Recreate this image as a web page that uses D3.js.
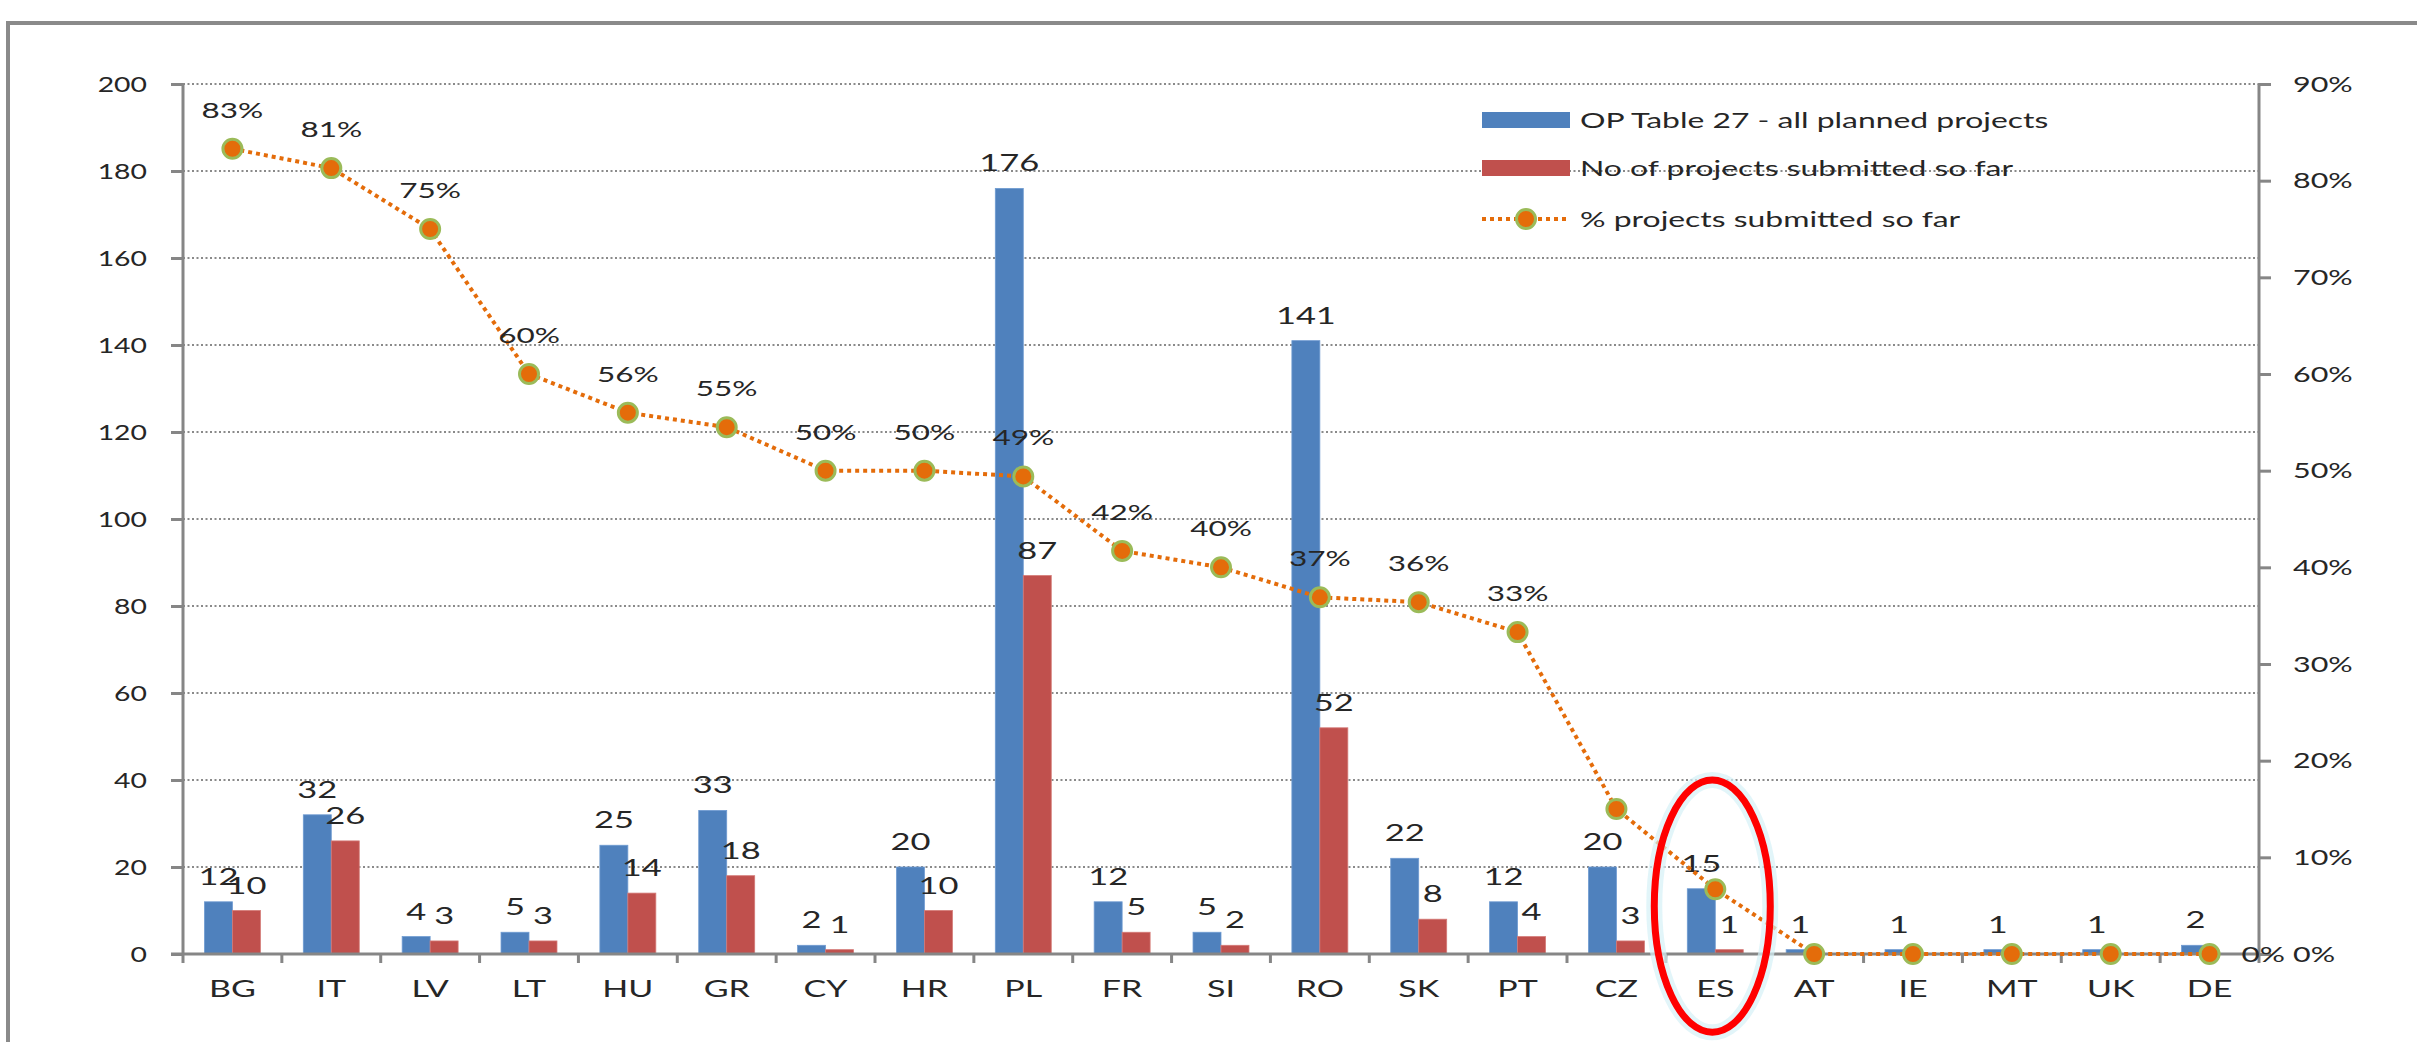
<!DOCTYPE html>
<html><head><meta charset="utf-8">
<script src="https://cdn.jsdelivr.net/npm/d3@7"></script>
<style>html,body{margin:0;padding:0;background:#fff;}svg{display:block;}</style>
</head><body>
<script>
// ---- data ----
const categories = ["BG","IT","LV","LT","HU","GR","CY","HR","PL","FR","SI","RO","SK","PT","CZ","ES","AT","IE","MT","UK","DE"];
const plannedProjects = [12,32,4,5,25,33,2,20,176,12,5,141,22,12,20,15,1,1,1,1,2];
const submittedProjects = [10,26,3,3,14,18,1,10,87,5,2,52,8,4,3,1,0,0,0,0,0];
const pctSubmitted = [83.3,81.3,75,60,56,54.5,50,50,49.4,41.7,40,36.9,36.4,33.3,15,6.7,0,0,0,0,0];
const pctLabels = ["83%","81%","75%","60%","56%","55%","50%","50%","49%","42%","40%","37%","36%","33%","","","","","","","0%"];
const leftTicks = [0,20,40,60,80,100,120,140,160,180,200];
const rightTicks = [0,10,20,30,40,50,60,70,80,90];
const seriesNames = ["OP Table 27 - all planned projects","No of projects submitted so far","% projects submitted so far"];
const highlighted = "ES";

// ---- style ----
const W = 2417, H = 1042;
const BLUE = "#4F81BD", RED = "#C0504D", ORANGE = "#E46C0A", GREEN = "#9BBB59";
const AXIS = "#868686", GRID = "#8a8a8a", TXT = "#262626";
const FONT = "Lato, 'Open Sans', sans-serif";

const svg = d3.select("body").append("svg").attr("width", W).attr("height", H)
  .style("font-family", FONT);
svg.append("rect").attr("width", W).attr("height", H).attr("fill", "#fff");

// frame
svg.append("path").attr("d", `M8,${H+10} L8,23 L${W+10},23`).attr("fill","none")
  .attr("stroke", "#8a8a8a").attr("stroke-width", 4);

const plot = {left:183, right:2259, top:84, bottom:954};

const x = d3.scaleBand().domain(categories).range([plot.left, plot.right])
  .paddingInner(0.434).paddingOuter(0.217);
const xSub = d3.scaleBand().domain([0,1]).range([0, x.bandwidth()]);
const xBoundary = d3.scaleLinear().domain([0, categories.length]).range([plot.left, plot.right]);
const yL = d3.scaleLinear().domain([0,200]).range([plot.bottom, plot.top]);
const yR = d3.scaleLinear().domain([0,90]).range([plot.bottom, plot.top]);
const cx = c => x(c) + x.bandwidth()/2;

function txt(g, px, py, s, size, anchor, sx, extra) {
  const t = g.append("text")
    .attr("transform", `translate(${px},${py}) scale(${sx},1)`)
    .attr("text-anchor", anchor || "middle")
    .attr("font-size", size).attr("fill", TXT).text(s);
  if (extra) extra(t);
  return t;
}

// gridlines
svg.append("g").selectAll("line").data(leftTicks.filter(d => d > 0)).join("line")
  .attr("x1", plot.left).attr("x2", plot.right)
  .attr("y1", d => yL(d)).attr("y2", d => yL(d))
  .attr("stroke", GRID).attr("stroke-width", 2).attr("stroke-dasharray", "2,2.5");

// bars
const gBars = svg.append("g");
categories.forEach((c, i) => {
  [plannedProjects[i], submittedProjects[i]].forEach((v, k) => {
    gBars.append("rect")
      .attr("x", x(c) + xSub(k)).attr("width", xSub.bandwidth())
      .attr("y", yL(v)).attr("height", yL(0) - yL(v))
      .attr("fill", k === 0 ? BLUE : RED)
      .attr("stroke", k === 0 ? "#6f9bd1" : "#d47a77").attr("stroke-width", 0.8);
    if (v > 0) txt(gBars, x(c) + xSub(k) + xSub.bandwidth()/2, yL(v) - 17, String(v), 23, "middle", 1.5);
  });
});

// axes
const axisG = svg.append("g");
const leftAxis = d3.axisLeft(yL).tickValues(leftTicks).tickSize(12).tickFormat("");
axisG.append("g").attr("transform", `translate(${plot.left},0)`).call(leftAxis)
  .call(g => { g.selectAll("path,line").attr("stroke", AXIS).attr("stroke-width", 3); g.select(".domain").attr("d", `M-0,${plot.top}V${plot.bottom}`); });
const rightAxis = d3.axisRight(yR).tickValues(rightTicks).tickSize(12).tickFormat("");
axisG.append("g").attr("transform", `translate(${plot.right},0)`).call(rightAxis)
  .call(g => { g.selectAll("path,line").attr("stroke", AXIS).attr("stroke-width", 3); g.select(".domain").attr("d", `M0,${plot.top}V${plot.bottom}`); });
axisG.append("line").attr("x1", plot.left - 12).attr("x2", plot.right)
  .attr("y1", yL(0)).attr("y2", yL(0)).attr("stroke", AXIS).attr("stroke-width", 3);
axisG.append("g").selectAll("line").data(d3.range(categories.length + 1)).join("line")
  .attr("x1", d => xBoundary(d)).attr("x2", d => xBoundary(d))
  .attr("y1", yL(0)).attr("y2", yL(0) + 9).attr("stroke", AXIS).attr("stroke-width", 3);

// tick labels
leftTicks.forEach(t => txt(axisG, plot.left - 36, yL(t), String(t), 21, "end", 1.35, s => s.attr("dy", "0.36em")));
rightTicks.forEach(t => txt(axisG, plot.right + 34, yR(t), t + "%", 21, "start", 1.45, s => s.attr("dy", "0.36em")));
categories.forEach(c => txt(axisG, cx(c), 997, c, 23, "middle", 1.48));

// line series
const lineG = svg.append("g");
const line = d3.line().x((d, i) => cx(categories[i])).y(d => yR(d));
lineG.append("path").datum(pctSubmitted).attr("d", line).attr("fill", "none")
  .attr("stroke", ORANGE).attr("stroke-width", 4).attr("stroke-dasharray", "4,4");
lineG.selectAll("circle").data(pctSubmitted).join("circle")
  .attr("cx", (d, i) => cx(categories[i])).attr("cy", d => yR(d)).attr("r", 9.5)
  .attr("fill", ORANGE).attr("stroke", GREEN).attr("stroke-width", 3);
pctSubmitted.forEach((d, i) => {
  const lab = pctLabels[i];
  if (!lab) return;
  if (i === categories.length - 1) {
    txt(lineG, cx(categories[i]) + 32, yR(d), lab, 21, "start", 1.5, s => s.attr("dy", "0.36em"));
  } else {
    txt(lineG, cx(categories[i]), yR(d) - 31, lab, 21, "middle", 1.5);
  }
});

// legend
const lg = svg.append("g");
const legX = 1482, legW = 88, legRows = [120, 168, 219];
lg.append("rect").attr("x", legX).attr("y", legRows[0] - 8).attr("width", legW).attr("height", 16).attr("fill", BLUE);
lg.append("rect").attr("x", legX).attr("y", legRows[1] - 8).attr("width", legW).attr("height", 16).attr("fill", RED);
lg.append("line").attr("x1", legX).attr("x2", legX + legW).attr("y1", legRows[2]).attr("y2", legRows[2])
  .attr("stroke", ORANGE).attr("stroke-width", 4).attr("stroke-dasharray", "4,4");
lg.append("circle").attr("cx", legX + legW/2).attr("cy", legRows[2]).attr("r", 9.5)
  .attr("fill", ORANGE).attr("stroke", GREEN).attr("stroke-width", 3);
seriesNames.forEach((s, i) => txt(lg, legX + legW + 10, legRows[i], s, 22, "start", 1.45, t => t.attr("dy", "0.36em")));

// highlight ellipse around ES
const ex = cx(highlighted) - 3, ey = yL(11);
const ery = yL(0) - yL(29), erx = 58;
svg.append("ellipse").attr("cx", ex).attr("cy", ey).attr("rx", erx).attr("ry", ery)
  .attr("fill", "none").attr("stroke", "#d6f1f7").attr("stroke-width", 16).attr("opacity", 0.7);
svg.append("ellipse").attr("cx", ex).attr("cy", ey).attr("rx", erx).attr("ry", ery)
  .attr("fill", "none").attr("stroke", "#FF0000").attr("stroke-width", 7);
</script>
</body></html>
